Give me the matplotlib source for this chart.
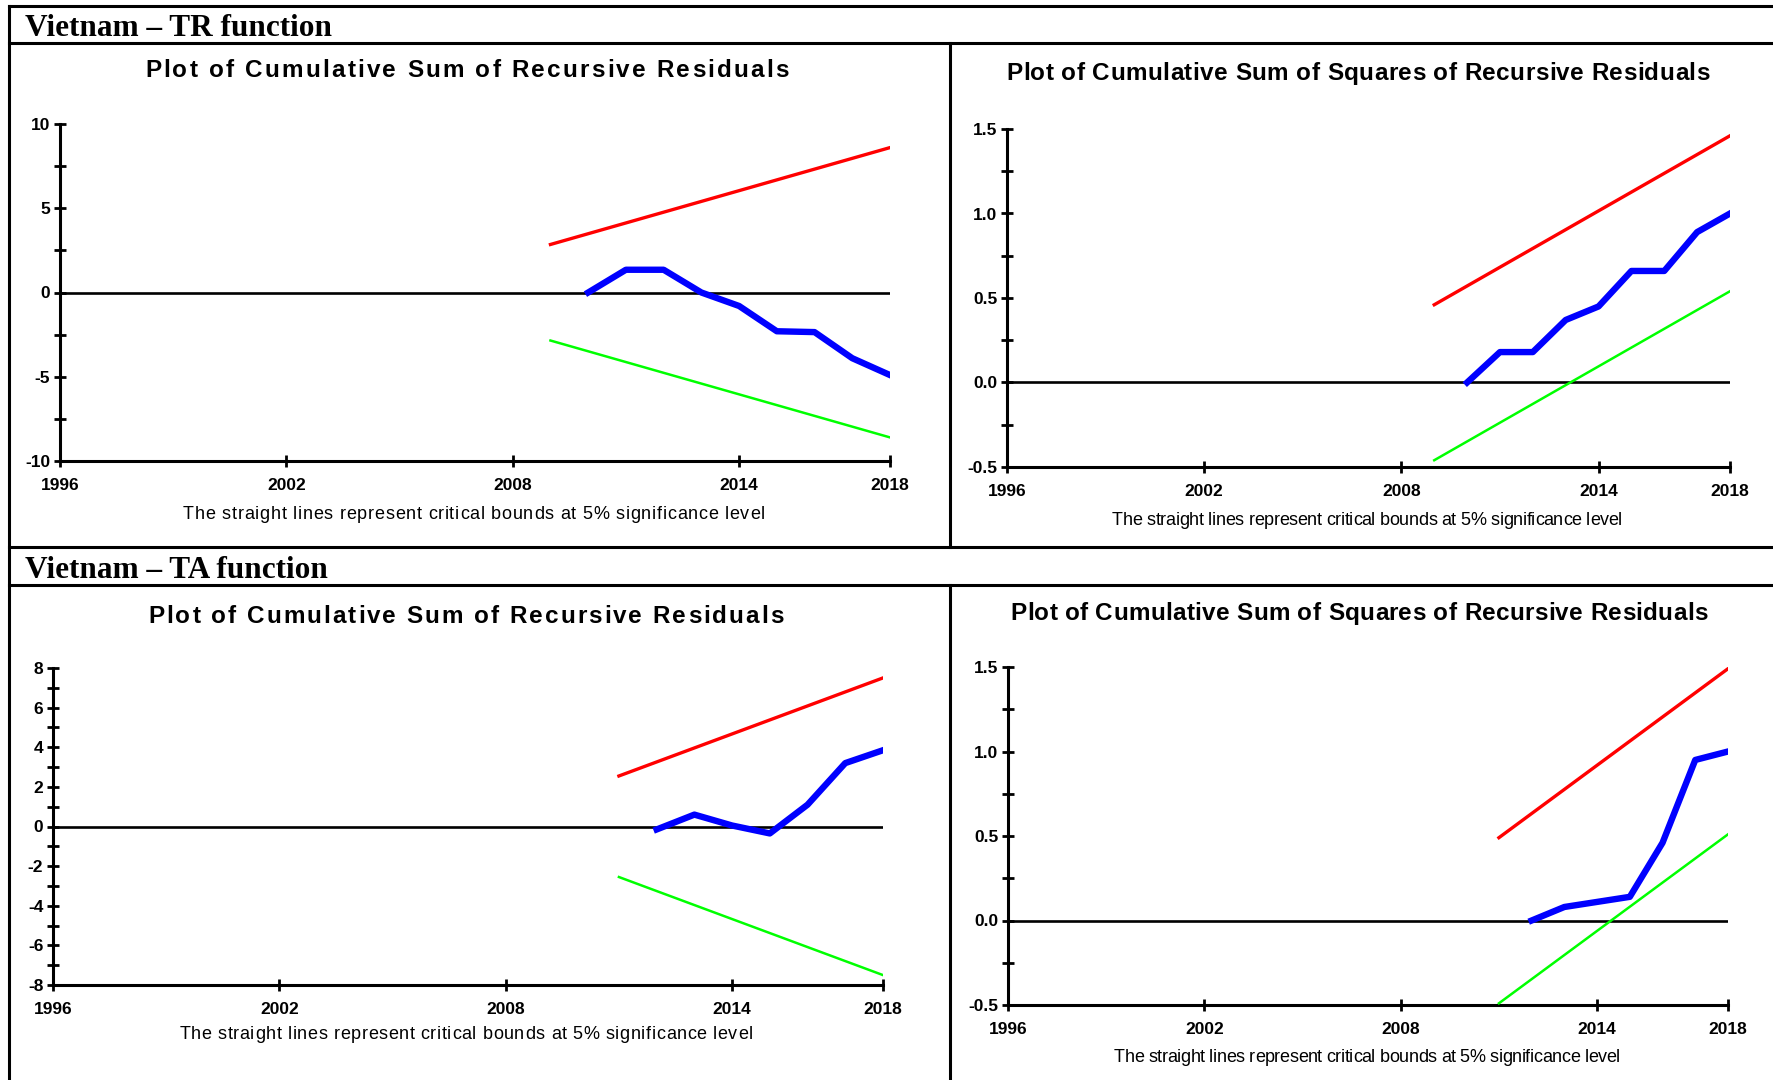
import matplotlib
matplotlib.use("Agg")
import matplotlib.pyplot as plt
from matplotlib.lines import Line2D
from matplotlib.font_manager import FontProperties
from matplotlib.ticker import MultipleLocator, FormatStrFormatter

W, H = 1774, 1080

# ---- data ----
x_ticks = [1996, 2002, 2008, 2014, 2018]

tr_years = [2010, 2011, 2012, 2013, 2014, 2015, 2016, 2017, 2018]
tr_bound_years = [2009, 2018]
tr_cusum = [0.0, 1.35, 1.35, 0.0, -0.8, -2.3, -2.35, -3.9, -4.9]
tr_cusum_upper = [2.85, 8.6]
tr_cusum_lower = [-2.85, -8.6]
tr_cusumsq = [0.0, 0.18, 0.18, 0.37, 0.45, 0.66, 0.66, 0.89, 1.0]
tr_cusumsq_upper = [0.46, 1.46]
tr_cusumsq_lower = [-0.46, 0.54]

ta_years = [2012, 2013, 2014, 2015, 2016, 2017, 2018]
ta_bound_years = [2011, 2018]
ta_cusum = [-0.15, 0.6, 0.05, -0.35, 1.1, 3.2, 3.85]
ta_cusum_upper = [2.55, 7.5]
ta_cusum_lower = [-2.55, -7.5]
ta_cusumsq = [0.0, 0.08, 0.11, 0.14, 0.46, 0.95, 1.0]
ta_cusumsq_upper = [0.49, 1.49]
ta_cusumsq_lower = [-0.49, 0.51]

headers = ["Vietnam \u2013 TR function", "Vietnam \u2013 TA function"]
title_cusum = "Plot of Cumulative Sum of Recursive Residuals"
title_cusumsq = "Plot of Cumulative Sum of Squares of Recursive Residuals"
caption = "The straight lines represent critical bounds at 5% significance level"

fig = plt.figure(figsize=(W / 100, H / 100), dpi=100)
renderer = fig.canvas.get_renderer()


def fx(px):
    return px / W


def fy(py):
    return 1 - py / H


def hline(y, x0=9, x1=W, lw=2.2):
    fig.add_artist(Line2D([fx(x0), fx(x1)], [fy(y), fy(y)], color="black", lw=lw))


def vline(x, y0, y1, lw=2.2):
    fig.add_artist(Line2D([fx(x), fx(x)], [fy(y0), fy(y1)], color="black", lw=lw))


def spaced_text(xc, y, width, text, size, weight="normal", family="Liberation Sans"):
    """Draw text centred at xc with letter spacing so it spans `width` pixels."""
    prop = FontProperties(family=family, size=size, weight=weight)

    def tw(s):
        return renderer.get_text_width_height_descent(s, prop, ismath=False)[0]

    natural = tw(text)
    track = (width - natural) / (len(text) - 1)
    left = xc - width / 2
    for i, ch in enumerate(text):
        if ch == " ":
            continue
        x = left + tw(text[: i + 1]) - tw(ch) + i * track
        fig.text(fx(x), fy(y), ch, fontproperties=prop, ha="left", va="baseline")


# frame of the table
hline(6)
hline(43)
hline(547)
hline(585)
vline(9, 6, H)
vline(950, 43, 547)
vline(950, 585, H)

for text, y in zip(headers, [28, 570]):
    fig.text(fx(25), fy(y), text, fontsize=22.5, fontweight="bold",
             family="Liberation Serif", ha="left", va="center")


def make_panel(box, ylim, major, minor, fmt, years, series, byears, upper, lower,
               title, title_pos, cap_pos):
    x0, x1, ytop, ybot = box
    ax = fig.add_axes([fx(x0), fy(ybot), fx(x1) - fx(x0), fy(ytop) - fy(ybot)])
    ax.set_xlim(1996, 2018)
    ax.set_ylim(*ylim)
    for s in ["top", "right"]:
        ax.spines[s].set_visible(False)
    for s in ["left", "bottom"]:
        ax.spines[s].set_linewidth(2.2)
    ax.set_xticks(x_ticks)
    ax.yaxis.set_major_locator(MultipleLocator(major))
    ax.yaxis.set_minor_locator(MultipleLocator(minor))
    ax.yaxis.set_major_formatter(FormatStrFormatter(fmt))
    ax.tick_params(direction="inout", length=8, width=2, pad=3)
    ax.tick_params(axis="x", pad=8)
    ax.tick_params(which="minor", axis="y", direction="inout", length=8, width=2)
    for lab in ax.get_xticklabels() + ax.get_yticklabels():
        lab.set_fontfamily("Liberation Sans")
        lab.set_fontweight("bold")
        lab.set_fontsize(12.5)
    ax.axhline(0, color="black", lw=1.9, zorder=2)
    ax.plot(byears, upper, color="#ff0000", lw=2.4, zorder=3)
    ax.plot(byears, lower, color="#00ff00", lw=1.8, zorder=3)
    ax.plot(years, series, color="#0000ff", lw=4.6, zorder=4)
    ax.patch.set_alpha(0)
    spaced_text(*title_pos, title, size=17.5, weight="bold")
    spaced_text(*cap_pos, caption, size=13)
    return ax


make_panel((60, 890, 124, 461), (-10, 10), 5, 2.5, "%d",
           tr_years, tr_cusum, tr_bound_years, tr_cusum_upper, tr_cusum_lower,
           title_cusum, (467, 77, 644), (474, 519, 582))
make_panel((1007, 1730, 129, 467), (-0.5, 1.5), 0.5, 0.25, "%.1f",
           tr_years, tr_cusumsq, tr_bound_years, tr_cusumsq_upper, tr_cusumsq_lower,
           title_cusumsq, (1358, 80, 703), (1367, 525, 510))
make_panel((53, 883, 668, 985), (-8, 8), 2, 1, "%d",
           ta_years, ta_cusum, ta_bound_years, ta_cusum_upper, ta_cusum_lower,
           title_cusum, (466, 623, 635), (466, 1039, 573))
make_panel((1008, 1728, 667, 1005), (-0.5, 1.5), 0.5, 0.25, "%.1f",
           ta_years, ta_cusumsq, ta_bound_years, ta_cusumsq_upper, ta_cusumsq_lower,
           title_cusumsq, (1359, 620, 697), (1367, 1062, 506))

fig.savefig("out.png", dpi=100)
